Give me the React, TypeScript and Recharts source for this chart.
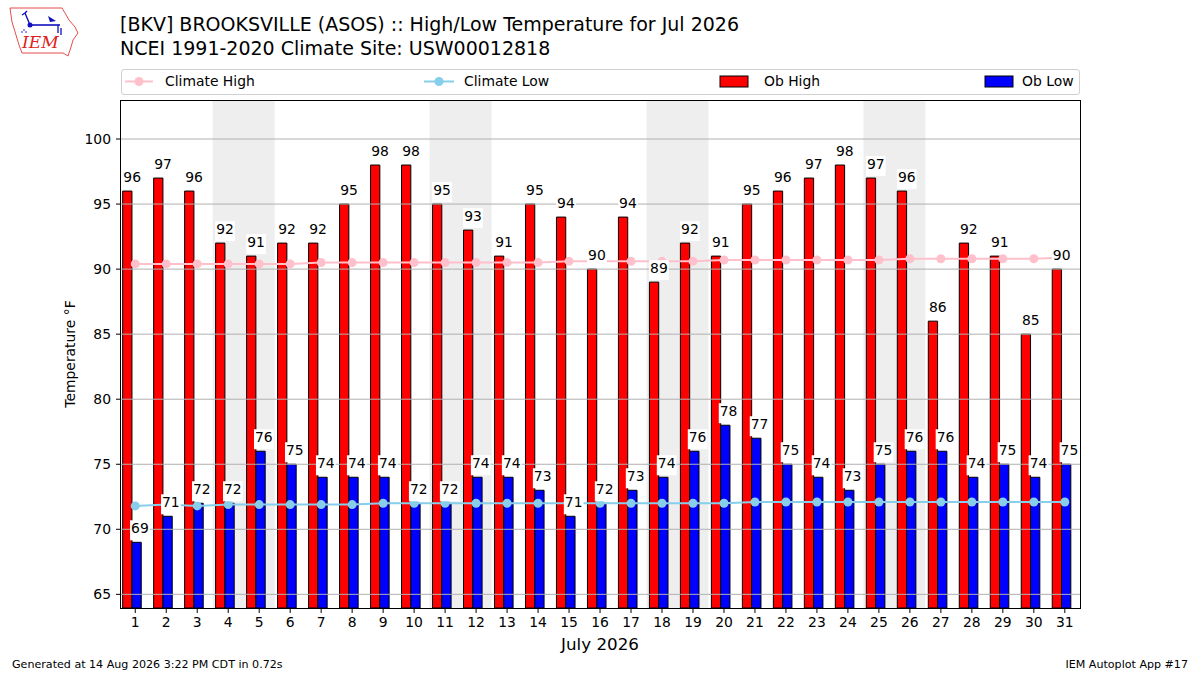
import React from 'react';
import { ComposedChart, Bar, Line, XAxis, YAxis, ReferenceArea, ReferenceLine, LabelList } from 'recharts';

const days = [1,2,3,4,5,6,7,8,9,10,11,12,13,14,15,16,17,18,19,20,21,22,23,24,25,26,27,28,29,30,31];
const obHigh = [96,97,96,92,91,92,92,95,98,98,95,93,91,95,94,90,94,89,92,91,95,96,97,98,97,96,86,92,91,85,90];
const obLow = [69,71,72,72,76,75,74,74,74,72,72,74,74,73,71,72,73,74,76,78,77,75,74,73,75,76,76,74,75,74,75];
const climateHigh = [90.4,90.4,90.4,90.4,90.4,90.4,90.5,90.5,90.5,90.5,90.5,90.5,90.5,90.5,90.6,90.6,90.6,90.6,90.6,90.7,90.7,90.7,90.7,90.7,90.7,90.8,90.8,90.8,90.8,90.8,90.9];
const climateLow = [71.8,71.9,71.8,71.9,71.9,71.9,71.9,71.9,72.0,72.0,72.0,72.0,72.0,72.0,72.0,72.0,72.0,72.0,72.0,72.0,72.1,72.1,72.1,72.1,72.1,72.1,72.1,72.1,72.1,72.1,72.1];
const weekendStarts = [4, 11, 18, 25];
const yTicks = [65, 70, 75, 80, 85, 90, 95, 100];

const titleLine1 = '[BKV] BROOKSVILLE (ASOS) :: High/Low Temperature for Jul 2026';
const titleLine2 = 'NCEI 1991-2020 Climate Site: USW00012818';
const footerLeft = 'Generated at 14 Aug 2026 3:22 PM CDT in 0.72s';
const footerRight = 'IEM Autoplot App #17';

const data = days.map((d, i) => ({
  day: d,
  high: obHigh[i],
  low: obLow[i],
  cHigh: climateHigh[i],
  cLow: climateLow[i],
}));

const FONT = 'DejaVu Sans, sans-serif';
const X_DOMAIN: [number, number] = [0.54, 31.49];
const BAR_SHIFT = 0.1;
const PLOT_LEFT = 121;
const PLOT_RIGHT = 1080;
const PLOT_TOP = 100;
const PLOT_BOTTOM = 608;
const PX_PER_DAY = (PLOT_RIGHT - PLOT_LEFT) / (X_DOMAIN[1] - X_DOMAIN[0]);

const makeLabel = (dx: number) => (props: any) => {
  const { x, y, value } = props;
  if (x == null || y == null) return null;
  const cx = x + dx;
  const ty = y - 9;
  const w = String(value).length * 8.85;
  return (
    <g>
      <rect x={cx - w / 2 - 1} y={ty - 13} width={w + 2} height={20} fill="#ffffff" />
      <text x={cx} y={ty} textAnchor="middle" fontSize={13.9} fontFamily={FONT} fill="#000">
        {value}
      </text>
    </g>
  );
};

const Logo = () => (
  <svg width={90} height={62} style={{ position: 'absolute', left: 0, top: 0 }}>
    <path
      d="M10,8 L62,8 L65,13 L69,20 L75,27 L78,33 L73,40 L71,47 L68,56 L63,53 L22,53 L19,45 L16,35 L12,22 Z"
      fill="#fff"
      stroke="#e02020"
      strokeWidth={0.8}
    />
    <line x1={30} y1={25} x2={60} y2={25} stroke="#1010c0" strokeWidth={1.6} />
    <circle cx={30} cy={25} r={2.5} fill="#1010c0" />
    <path d="M30,25 L25,13 M25,13 L22,15 M25,13 L27,11" stroke="#1010c0" strokeWidth={1.4} fill="none" />
    <path d="M48,16 L56,21 L50,22 Z" fill="#1010c0" />
    <path d="M58,25 L58,33 M61,28 L61,35" stroke="#1010c0" strokeWidth={1.3} />
    <circle cx={24} cy={30} r={0.8} fill="#1010c0" />
    <circle cx={22} cy={32} r={0.8} fill="#1010c0" />
    <circle cx={26} cy={32} r={0.8} fill="#1010c0" />
    <text x={22} y={48} fontFamily="DejaVu Serif, Liberation Serif, serif" fontStyle="italic" fontSize={17} fill="#e02020">
      IEM
    </text>
  </svg>
);

const legendText: React.CSSProperties = {
  position: 'absolute',
  top: 0,
  fontSize: 13.9,
  fontFamily: FONT,
  lineHeight: '23px',
  color: '#000',
  whiteSpace: 'nowrap',
};

const Legend = () => (
  <div
    style={{
      position: 'absolute',
      left: 121,
      top: 69,
      width: 959,
      height: 26,
      border: '1px solid #d0d0d0',
      borderRadius: 3,
      boxSizing: 'border-box',
      background: 'rgba(255,255,255,0.8)',
    }}
  >
    <svg width={959} height={26} style={{ position: 'absolute', left: -1, top: -1 }}>
      <line x1={4} y1={12.5} x2={32} y2={12.5} stroke="#FFC0CB" strokeWidth={2} />
      <circle cx={18} cy={12.5} r={4.5} fill="#FFC0CB" />
      <line x1={303} y1={12.5} x2={333} y2={12.5} stroke="#87CEEB" strokeWidth={2} />
      <circle cx={318} cy={12.5} r={4.5} fill="#87CEEB" />
      <rect x={599} y={7} width={28} height={11} fill="#ff0000" stroke="#000" strokeWidth={1} />
      <rect x={864} y={7} width={28} height={11} fill="#0000ff" stroke="#000" strokeWidth={1} />
    </svg>
    <span style={{ ...legendText, left: 43 }}>Climate High</span>
    <span style={{ ...legendText, left: 342 }}>Climate Low</span>
    <span style={{ ...legendText, left: 642 }}>Ob High</span>
    <span style={{ ...legendText, left: 900 }}>Ob Low</span>
  </div>
);

export default function App() {
  return (
    <div style={{ position: 'absolute', left: 0, top: 0, width: 1200, height: 675, background: '#fff', overflow: 'hidden', fontFamily: FONT }}>
      <Logo />
      <div style={{ position: 'absolute', left: 120, top: 12, fontSize: 19, lineHeight: '24px', fontFamily: FONT, whiteSpace: 'nowrap' }}>
        {titleLine1}
        <br />
        {titleLine2}
      </div>
      <Legend />
      <ComposedChart
        width={1200}
        height={675}
        data={data}
        margin={{ top: PLOT_TOP, right: 1200 - PLOT_RIGHT, bottom: 675 - PLOT_BOTTOM - 30, left: PLOT_LEFT - 60 }}
        barGap={0}
        style={{ position: 'absolute', left: 0, top: 0 }}
      >
        <XAxis
          xAxisId="main"
          dataKey="day"
          type="number"
          domain={X_DOMAIN}
          allowDataOverflow
          ticks={days}
          interval={0}
          height={30}
          tickSize={5}
          tickMargin={4}
          axisLine={false}
          tickLine={{ stroke: '#000' }}
          tick={{ fill: '#000', fontSize: 13.9, fontFamily: FONT }}
        />
        <XAxis
          xAxisId="bars"
          dataKey="day"
          type="number"
          domain={[X_DOMAIN[0] + BAR_SHIFT, X_DOMAIN[1] + BAR_SHIFT]}
          allowDataOverflow
          height={0}
          hide
        />
        <YAxis
          yAxisId="y"
          type="number"
          domain={[63.95, 103]}
          allowDataOverflow
          ticks={yTicks}
          interval={0}
          width={60}
          tickSize={5}
          tickMargin={5}
          axisLine={false}
          tickLine={{ stroke: '#000' }}
          tick={{ fill: '#000', fontSize: 13.9, fontFamily: FONT }}
        />
        {weekendStarts.map((d) => (
          <ReferenceArea
            key={'we' + d}
            xAxisId="main"
            yAxisId="y"
            x1={d - 0.5}
            x2={d + 1.5}
            fill="#eeeeee"
            fillOpacity={1}
            stroke="none"
            zIndex={-50}
          />
        ))}
        <Bar xAxisId="bars" yAxisId="y" dataKey="high" name="Ob High" fill="#ff0000" stroke="#000" strokeWidth={1} barSize={PX_PER_DAY * 0.3} isAnimationActive={false} />
        <Bar xAxisId="bars" yAxisId="y" dataKey="low" name="Ob Low" fill="#0000ff" stroke="#000" strokeWidth={1} barSize={PX_PER_DAY * 0.3} isAnimationActive={false} />
        {yTicks.map((t) => (
          <ReferenceLine key={'g' + t} xAxisId="main" yAxisId="y" y={t} stroke="#b0b0b0" strokeWidth={1} zIndex={350} />
        ))}
        <Line xAxisId="main" yAxisId="y" dataKey="cHigh" name="Climate High" stroke="#FFC0CB" strokeWidth={2} dot={{ r: 4.5, fill: '#FFC0CB', stroke: 'none' }} isAnimationActive={false} />
        <Line xAxisId="main" yAxisId="y" dataKey="cLow" name="Climate Low" stroke="#87CEEB" strokeWidth={2} dot={{ r: 4.5, fill: '#87CEEB', stroke: 'none' }} isAnimationActive={false} />
        <Line xAxisId="bars" yAxisId="y" dataKey="high" stroke="none" dot={false} legendType="none" isAnimationActive={false}>
          <LabelList dataKey="high" content={makeLabel(0)} />
        </Line>
        <Line xAxisId="bars" yAxisId="y" dataKey="low" stroke="none" dot={false} legendType="none" isAnimationActive={false}>
          <LabelList dataKey="low" content={makeLabel(PX_PER_DAY * 0.25)} />
        </Line>
      </ComposedChart>
      <div
        style={{
          position: 'absolute',
          left: PLOT_LEFT - 1,
          top: PLOT_TOP,
          width: PLOT_RIGHT - PLOT_LEFT + 2,
          height: PLOT_BOTTOM - PLOT_TOP + 1,
          border: '1px solid #000',
          boxSizing: 'border-box',
          pointerEvents: 'none',
        }}
      />
      <div style={{ position: 'absolute', left: 70, top: 354, transform: 'translate(-50%, -50%) rotate(-90deg)', fontSize: 13.9, fontFamily: FONT, whiteSpace: 'nowrap' }}>
        Temperature °F
      </div>
      <div style={{ position: 'absolute', left: 600, top: 644, transform: 'translate(-50%, -50%)', fontSize: 16.7, fontFamily: FONT, whiteSpace: 'nowrap' }}>
        July 2026
      </div>
      <div style={{ position: 'absolute', left: 12, top: 658, fontSize: 11.1, lineHeight: '14px', fontFamily: FONT, whiteSpace: 'nowrap' }}>
        {footerLeft}
      </div>
      <div style={{ position: 'absolute', right: 12, top: 658, fontSize: 11.1, lineHeight: '14px', fontFamily: FONT, whiteSpace: 'nowrap' }}>
        {footerRight}
      </div>
    </div>
  );
}
